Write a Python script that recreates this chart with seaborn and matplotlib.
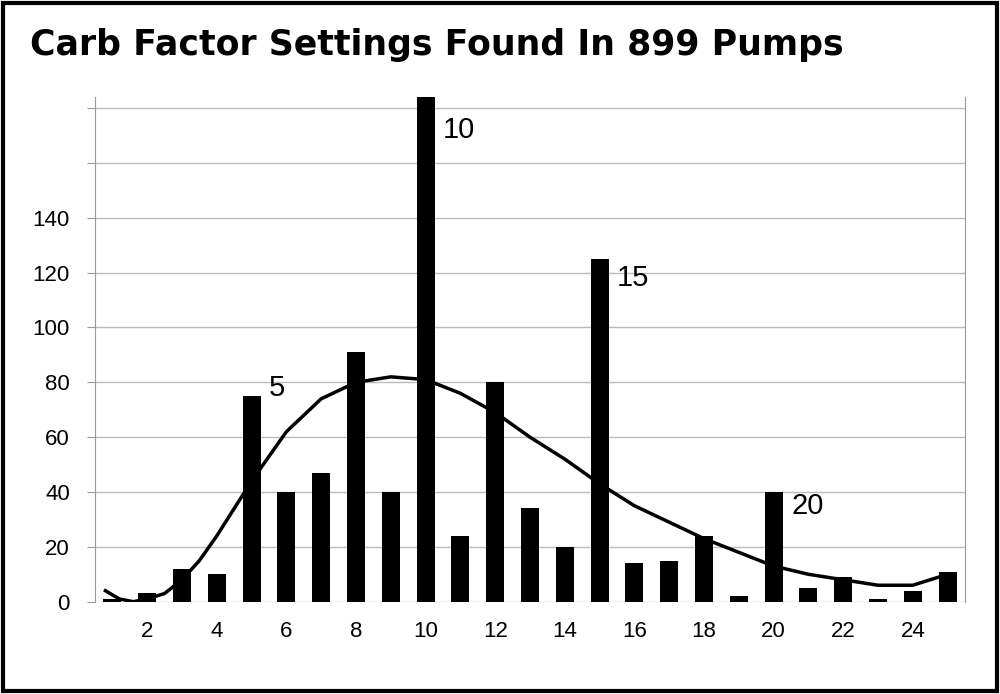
import matplotlib
matplotlib.use("Agg")
import matplotlib.pyplot as plt
import seaborn as sns
import pandas as pd

settings = list(range(1, 26))
pumps = [1, 3, 12, 10, 75, 40, 47, 91, 40, 185, 24, 80, 34, 20, 125,
         14, 15, 24, 2, 40, 5, 9, 1, 4, 11]

curve_x = [0.8, 1.2, 1.6, 2.0, 2.5, 3, 3.5, 4, 5, 6, 7, 8, 9, 10, 11, 12, 13,
           14, 15, 16, 17, 18, 19, 20, 21, 22, 23, 24, 25]
curve_y = [4, 1, 0, 1, 3, 8, 15, 24, 44, 62, 74, 80, 82, 81, 76, 69, 60,
           52, 43, 35, 29, 23, 18, 13, 10, 8, 6, 6, 10]

labels = {5: "5", 10: "10", 15: "15", 20: "20"}
label_y = {5: 78, 10: 172, 15: 118, 20: 35}

plt.rcParams["font.family"] = "Liberation Sans"

fig = plt.figure(figsize=(10, 6.94), dpi=100)
ax = fig.add_axes([0.095, 0.133, 0.87, 0.727])

df = pd.DataFrame({"setting": settings, "pumps": pumps})
sns.barplot(data=df, x="setting", y="pumps", native_scale=True, width=0.52,
            color="black", saturation=1, ax=ax, zorder=3)
sns.lineplot(x=curve_x, y=curve_y, color="black", linewidth=2.5, ax=ax, zorder=4)

ax.set_xlim(0.5, 25.5)
ax.set_ylim(0, 184)
ax.set_yticks(range(0, 181, 20))
ax.set_yticklabels([str(v) if v <= 140 else "" for v in range(0, 181, 20)],
                   fontsize=16)
ax.set_xticks(range(2, 25, 2))
ax.set_xticklabels([str(v) for v in range(2, 25, 2)], fontsize=16)
ax.tick_params(axis="x", length=0, pad=14)
ax.tick_params(axis="y", length=6, color="#999999", pad=12)
ax.grid(axis="y", color="#bbbbbb", linewidth=1, zorder=0)
ax.set_xlabel("")
ax.set_ylabel("")
for side in ["top", "bottom"]:
    ax.spines[side].set_visible(False)
for side in ["left", "right"]:
    ax.spines[side].set_color("#999999")

for x, t in labels.items():
    ax.text(x + 0.5, label_y[x], t, fontsize=21, va="center")

fig.text(0.03, 0.935, "Carb Factor Settings Found In 899 Pumps",
         fontsize=25, fontweight="bold", family="DejaVu Sans", va="center")
fig.patches.append(plt.Rectangle((0.003, 0.004), 0.994, 0.992, fill=False,
                                 edgecolor="black", linewidth=3,
                                 transform=fig.transFigure))

fig.savefig("out.png", dpi=100)
